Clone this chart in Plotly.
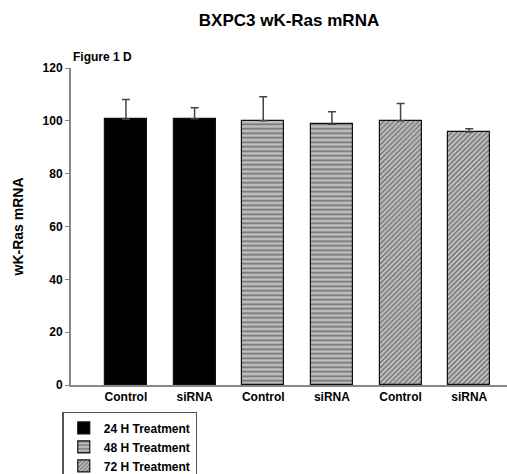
import plotly.graph_objects as go

groups = ["24 H Treatment", "48 H Treatment", "72 H Treatment"]
conditions = ["Control", "siRNA"]
means = {
    "24 H Treatment": [100.6, 100.8],
    "48 H Treatment": [100.0, 98.7],
    "72 H Treatment": [100.0, 95.8],
}
errors = {
    "24 H Treatment": [7.5, 4.2],
    "48 H Treatment": [9.1, 4.7],
    "72 H Treatment": [6.6, 1.2],
}
y_ticks = [0, 20, 40, 60, 80, 100, 120]

styles = {
    "24 H Treatment": dict(color="black", pattern=dict(shape="")),
    "48 H Treatment": dict(color="#bdbdbd", pattern=dict(shape="-", fgcolor="#222222", bgcolor="#bdbdbd", size=4.5, solidity=0.35)),
    "72 H Treatment": dict(color="#c8c8c8", pattern=dict(shape="/", fgcolor="#2a2a2a", bgcolor="#c8c8c8", size=3.5, solidity=0.5)),
}

fig = go.Figure()
tickvals, ticktext = [], []
for gi, g in enumerate(groups):
    xs = [gi * len(conditions) + ci for ci in range(len(conditions))]
    tickvals += xs
    ticktext += conditions
    st = styles[g]
    fig.add_trace(go.Bar(
        x=xs, y=means[g], name=g, width=0.61,
        marker=dict(color=st["color"], pattern=st["pattern"],
                    line=dict(color="#111111", width=1.2)),
        error_y=dict(type="data", array=errors[g], arrayminus=[0] * len(xs),
                     symmetric=False, color="#444444", thickness=1.5, width=4),
    ))

fig.update_layout(
    width=507, height=474,
    margin=dict(l=71, r=0, t=68, b=89, autoexpand=False),
    plot_bgcolor="white", paper_bgcolor="white",
    font=dict(family="Liberation Sans, Arial, sans-serif", color="black"),
    title=dict(text="BXPC3 wK-Ras mRNA", x=0.57, xanchor="center", y=0.958, yanchor="middle",
               font=dict(size=17, weight="bold")),
    showlegend=True,
    bargap=0,
    legend=dict(x=-0.02, xanchor="left", y=-0.085, yanchor="top",
                bordercolor="#555555", borderwidth=1.5, bgcolor="white",
                font=dict(size=12, weight="bold"), tracegroupgap=0, itemwidth=30,
                traceorder="normal"),
    xaxis=dict(range=[-0.8, 5.55], tickvals=tickvals, ticktext=ticktext,
               showline=True, linecolor="#888888", linewidth=2, ticks="", showgrid=False,
               zeroline=False, tickfont=dict(size=12, weight="bold")),
    yaxis=dict(range=[0, 120], tickvals=y_ticks,
               showline=True, linecolor="#888888", linewidth=2, ticks="outside", ticklen=4,
               tickcolor="#888888", showgrid=False, zeroline=False,
               tickfont=dict(size=12, weight="bold"),
               title=dict(text="wK-Ras mRNA", font=dict(size=14, weight="bold"), standoff=16)),
    annotations=[dict(text="Figure 1 D", x=0, xref="paper", xanchor="left",
                      y=1.035, yref="paper", yanchor="middle", showarrow=False,
                      font=dict(size=12, weight="bold"))],
)

fig.write_html("out.html")
